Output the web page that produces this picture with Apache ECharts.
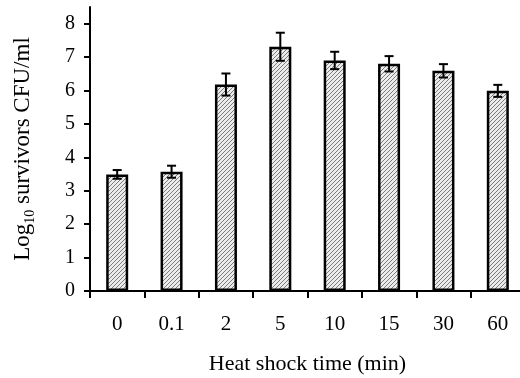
<!DOCTYPE html>
<html>
<head>
<meta charset="utf-8">
<script src="https://cdn.jsdelivr.net/npm/echarts@6/dist/echarts.min.js"></script>
<style>
html,body{margin:0;padding:0;background:#fff;}
#c{width:520px;height:378px;}
</style>
</head>
<body>
<div id="c"></div>
<script>
var categories = ['0', '0.1', '2', '5', '10', '15', '30', '60'];
var survivors = [3.49, 3.57, 6.18, 7.31, 6.90, 6.80, 6.59, 5.99];
var errors = [0.13, 0.18, 0.33, 0.42, 0.26, 0.23, 0.20, 0.18];
var yTicks = [0, 1, 2, 3, 4, 5, 6, 7, 8];

function hatch() {
  var s = 4;
  var cv = document.createElement('canvas');
  cv.width = s; cv.height = s;
  var ctx = cv.getContext('2d');
  ctx.fillStyle = '#ececec';
  ctx.fillRect(0, 0, s, s);
  ctx.strokeStyle = '#7a7a7a';
  ctx.lineWidth = 1;
  ctx.beginPath();
  ctx.moveTo(-1, s + 1); ctx.lineTo(s + 1, -1);
  ctx.moveTo(-1, 1); ctx.lineTo(1, -1);
  ctx.moveTo(s - 1, s + 1); ctx.lineTo(s + 1, s - 1);
  ctx.stroke();
  return cv;
}

var font = '"Liberation Serif", "Times New Roman", serif';
var chart = echarts.init(document.getElementById('c'), null, {renderer: 'canvas'});
var errData = survivors.map(function (v, i) { return [i, v - errors[i], v + errors[i]]; });

chart.setOption({
  animation: false,
  backgroundColor: '#fff',
  grid: {left: 90, top: 7, width: 435, bottom: 87, containLabel: false, outerBoundsMode: 'none'},
  xAxis: {
    type: 'category',
    data: categories,
    boundaryGap: true,
    axisLine: {lineStyle: {color: '#000', width: 2}},
    axisTick: {show: true, length: 7, inside: false, alignWithLabel: false, lineStyle: {color: '#000', width: 2}},
    axisLabel: {color: '#000', fontFamily: font, fontSize: 21, margin: 23},
    name: 'Heat shock time (min)',
    nameLocation: 'middle',
    nameGap: 62,
    nameTextStyle: {color: '#000', fontFamily: font, fontSize: 22}
  },
  yAxis: {
    type: 'value',
    min: 0,
    max: 8.5,
    interval: 1,
    splitLine: {show: false},
    axisLine: {show: true, lineStyle: {color: '#000', width: 2}},
    axisTick: {show: true, length: 6, customValues: yTicks, lineStyle: {color: '#000', width: 2}},
    axisLabel: {color: '#000', fontFamily: font, fontSize: 20, margin: 15, customValues: yTicks},
    name: '{n|Log}{s|10}{n| survivors CFU/ml}',
    nameLocation: 'middle',
    nameGap: 56,
    nameTextStyle: {
      color: '#000', fontFamily: font, fontSize: 23,
      rich: {
        n: {fontFamily: font, fontSize: 23, color: '#000'},
        s: {fontFamily: font, fontSize: 14, color: '#000', verticalAlign: 'bottom', padding: [0, 0, -3, 0]}
      }
    }
  },
  series: [
    {
      type: 'bar',
      data: survivors,
      barWidth: 22,
      itemStyle: {
        color: {image: hatch(), repeat: 'repeat'},
        borderColor: '#000',
        borderWidth: 2.5
      }
    },
    {
      type: 'custom',
      data: errData,
      z: 10,
      renderItem: function (params, api) {
        var x = api.value(0);
        var lo = api.coord([x, api.value(1)]);
        var hi = api.coord([x, api.value(2)]);
        var hw = 4.5;
        var st = {stroke: '#000', lineWidth: 2};
        return {
          type: 'group',
          children: [
            {type: 'line', shape: {x1: lo[0], y1: lo[1], x2: hi[0], y2: hi[1]}, style: st},
            {type: 'line', shape: {x1: hi[0] - hw, y1: hi[1], x2: hi[0] + hw, y2: hi[1]}, style: st},
            {type: 'line', shape: {x1: lo[0] - hw, y1: lo[1], x2: lo[0] + hw, y2: lo[1]}, style: st}
          ]
        };
      }
    }
  ]
});
</script>
</body>
</html>
